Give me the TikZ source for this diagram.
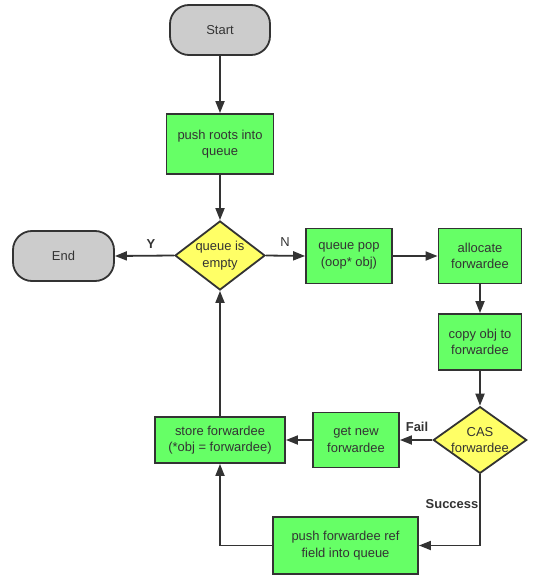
\documentclass[tikz,border=0pt]{standalone}
\usepackage{fontspec}
\setmainfont{Liberation Sans}
\usetikzlibrary{shapes.geometric,arrows.meta}
\definecolor{boxgreen}{HTML}{66FF66}
\definecolor{boxyellow}{HTML}{FFFF66}
\definecolor{boxgrey}{HTML}{CCCCCC}
\definecolor{ink}{HTML}{333333}
\tikzset{
  base/.style={draw=ink, line width=1.8bp, text=ink, align=center, inner sep=0pt,
    font=\fontsize{13}{16.5}\selectfont},
  term/.style={base, fill=boxgrey, rounded corners=19bp, minimum width=100bp, minimum height=50bp},
  proc/.style={base, fill=boxgreen, rectangle},
  decide/.style={base, fill=boxyellow, diamond},
  conn/.style={draw=ink, line width=1.8bp, -{Triangle[length=12bp,width=9bp]}},
  lbl/.style={text=ink, font=\fontsize{13}{15}\selectfont\bfseries, inner sep=0pt},
  lbln/.style={text=ink, font=\fontsize{13}{15}\selectfont, inner sep=0pt}
}
\begin{document}
\begin{tikzpicture}[x=1bp,y=-1bp]
\useasboundingbox (0,0) rectangle (544,581);
\node[term] (start) at (220,30) {Start};
\node[proc, minimum width=107bp, minimum height=60bp] (push) at (220,144) {push roots into\\queue};
\node[decide, minimum width=90bp, minimum height=69bp, aspect=1.3] (dia) at (220,255.5) {queue is\\empty};
\node[term, minimum width=101bp] (end) at (63.5,256) {End};
\node[proc, minimum width=86bp, minimum height=55bp] (pop) at (349,256) {queue pop\\(oop* obj)};
\node[proc, minimum width=83bp, minimum height=55bp] (alloc) at (480,256) {allocate\\forwardee};
\node[proc, minimum width=83bp, minimum height=56bp] (copy) at (480,342) {copy obj to\\forwardee};
\node[decide, minimum width=93bp, minimum height=66bp, aspect=1.4] (cas) at (480,440) {CAS\\forwardee};
\node[proc, minimum width=86bp, minimum height=55bp] (getnew) at (356,440) {get new\\forwardee};
\node[proc, minimum width=130bp, minimum height=46bp] (store) at (220,440) {store forwardee\\(*obj = forwardee)};
\node[proc, minimum width=145bp, minimum height=57bp] (pushref) at (345.5,545.5) {push forwardee ref\\field into queue};

\draw[conn] (start) -- (push);
\draw[conn] (push) -- (dia);
\draw[conn] (dia.west) -- (end.east);
\draw[conn] (dia.east) -- (pop.west);
\draw[conn] (pop) -- (alloc);
\draw[conn] (alloc) -- (copy);
\draw[conn] (copy) -- (cas.north);
\draw[conn] (cas.west) -- (getnew.east);
\draw[conn] (getnew) -- (store);
\draw[conn] (cas.south) |- (pushref.east);
\draw[conn] (pushref.west) -| (store.south);
\draw[conn] (store.north) -- (dia.south);

\node[lbl] (ly) at (151,244) {Y};
\node[lbln] (ln) at (285,242) {N};
\node[lbl] (lf) at (417,427) {Fail};
\node[lbl] (ls) at (452,504) {Success};
\end{tikzpicture}
\end{document}
